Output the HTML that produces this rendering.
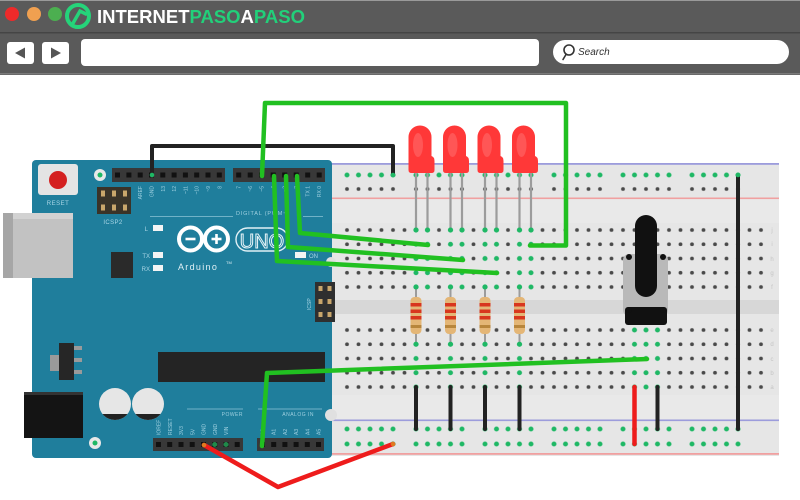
<!DOCTYPE html>
<html><head><meta charset="utf-8">
<style>
html,body{margin:0;padding:0;background:#fff;overflow:hidden;}
svg{display:block;}
</style></head><body>
<svg width="800" height="500" viewBox="0 0 800 500" xmlns="http://www.w3.org/2000/svg" font-family="'Liberation Sans', sans-serif">
<defs>
  <pattern id="K" patternUnits="userSpaceOnUse" x="341.25" y="-7.125" width="11.5" height="14.25"><circle cx="5.75" cy="7.125" r="1.9" fill="#4a4a4a"/></pattern>
  <pattern id="G" patternUnits="userSpaceOnUse" x="341.25" y="-7.125" width="11.5" height="14.25"><circle cx="5.75" cy="7.125" r="2.5" fill="#1fb865"/></pattern>
  <pattern id="RG" patternUnits="userSpaceOnUse" x="341.25" y="-7.125" width="69" height="14.25">
    <circle cx="5.75" cy="7.125" r="2.5" fill="#1fb865"/><circle cx="17.25" cy="7.125" r="2.5" fill="#1fb865"/><circle cx="28.75" cy="7.125" r="2.5" fill="#1fb865"/><circle cx="40.25" cy="7.125" r="2.5" fill="#1fb865"/><circle cx="51.75" cy="7.125" r="2.5" fill="#1fb865"/>
  </pattern>
  <pattern id="RK" patternUnits="userSpaceOnUse" x="341.25" y="-7.125" width="69" height="14.25">
    <circle cx="5.75" cy="7.125" r="1.9" fill="#4a4a4a"/><circle cx="17.25" cy="7.125" r="1.9" fill="#4a4a4a"/><circle cx="28.75" cy="7.125" r="1.9" fill="#4a4a4a"/><circle cx="40.25" cy="7.125" r="1.9" fill="#4a4a4a"/><circle cx="51.75" cy="7.125" r="1.9" fill="#4a4a4a"/>
  </pattern>
  <path id="led" d="M-13,170 L-13,137 A11.5,11.5 0 0 1 10,137 L10,156 Q13,157 13,161 L13,170 Q13,173 10,173 L-10,173 Q-13,173 -13,170 Z"/>
  <clipPath id="capclip"><rect x="0" y="414" width="200" height="30"/></clipPath>
</defs>

<!-- ===== Browser chrome ===== -->
<rect x="0" y="0" width="800" height="75" fill="#5a5a5a"/>
<rect x="0" y="0" width="800" height="1" fill="#9a9a9a"/>
<rect x="0" y="32" width="800" height="1.5" fill="#454545"/>
<rect x="0" y="73" width="800" height="1.5" fill="#7a7a7a"/>
<circle cx="12" cy="14" r="7" fill="#ee2a2a"/>
<circle cx="34" cy="14" r="7" fill="#f0a050"/>
<circle cx="55" cy="14" r="7" fill="#4caf50"/>
<circle cx="78" cy="16" r="11" fill="none" stroke="#25d47a" stroke-width="4"/>
<path d="M72,25 L80,11 L86,14" fill="none" stroke="#25d47a" stroke-width="3.5" stroke-linecap="round"/>
<text x="97" y="23" font-size="18" font-weight="bold" fill="#ffffff" textLength="208" lengthAdjust="spacingAndGlyphs">INTERNET<tspan fill="#22d07a">PASO</tspan>A<tspan fill="#22d07a">PASO</tspan></text>

<rect x="7" y="42" width="27" height="22" rx="3" fill="#ffffff"/>
<path d="M15,53 L25,47.5 L25,58.5 Z" fill="#555"/>
<rect x="42" y="42" width="27" height="22" rx="3" fill="#ffffff"/>
<path d="M61,53 L51,47.5 L51,58.5 Z" fill="#555"/>
<rect x="81" y="39" width="458" height="27" rx="4" fill="#ffffff"/>
<rect x="553" y="40" width="236" height="24" rx="12" fill="#ffffff"/>
<circle cx="569" cy="50" r="5" fill="none" stroke="#333" stroke-width="1.6"/>
<line x1="566" y1="54.5" x2="563" y2="59.5" stroke="#333" stroke-width="1.6" stroke-linecap="round"/>
<text x="578" y="55" font-size="10" font-style="italic" fill="#333">Search</text>

<!-- ===== Breadboard ===== -->
<rect x="326" y="163" width="453" height="293" fill="#e6e6e6"/>
<rect x="326" y="199" width="453" height="24" fill="#e9e9e9"/>
<rect x="326" y="395" width="453" height="24" fill="#e9e9e9"/>
<rect x="326" y="300" width="453" height="14" fill="#d7d7d7"/>
<rect x="326" y="163" width="453" height="1.8" fill="#9c9cdc"/>
<rect x="326" y="197.5" width="453" height="1.6" fill="#f0a0a0"/>
<rect x="326" y="419.5" width="453" height="1.6" fill="#9c9cdc"/>
<rect x="326" y="453" width="453" height="1.8" fill="#f0a0a0"/>

<!-- rails -->
<g transform="translate(0,175)"><rect x="341.25" y="-7.125" width="402.5" height="14.25" fill="url(#RG)"/></g>
<g transform="translate(0,189)"><rect x="341.25" y="-7.125" width="402.5" height="14.25" fill="url(#RK)"/></g>
<g transform="translate(0,429)"><rect x="341.25" y="-7.125" width="402.5" height="14.25" fill="url(#RG)"/></g>
<g transform="translate(0,444)"><rect x="341.25" y="-7.125" width="402.5" height="14.25" fill="url(#RG)"/></g>

<!-- main top half -->
<g transform="translate(0,230)">
  <rect x="341.25" y="-7.125" width="425.5" height="71.25" fill="url(#K)"/>
  <rect x="410.25" y="-7.125" width="23" height="71.25" fill="url(#G)"/>
  <rect x="444.75" y="-7.125" width="23" height="71.25" fill="url(#G)"/>
  <rect x="479.25" y="-7.125" width="23" height="71.25" fill="url(#G)"/>
  <rect x="513.75" y="-7.125" width="23" height="71.25" fill="url(#G)"/>
</g>
<!-- main bottom half -->
<g transform="translate(0,330)">
  <rect x="341.25" y="-7.125" width="425.5" height="71.25" fill="url(#K)"/>
  <rect x="410.25" y="-7.125" width="11.5" height="71.25" fill="url(#G)"/>
  <rect x="444.75" y="-7.125" width="11.5" height="71.25" fill="url(#G)"/>
  <rect x="479.25" y="-7.125" width="11.5" height="71.25" fill="url(#G)"/>
  <rect x="513.75" y="-7.125" width="11.5" height="71.25" fill="url(#G)"/>
  <rect x="628.75" y="-7.125" width="34.5" height="71.25" fill="url(#G)"/>
</g>
<g font-size="6" fill="#c4c4c4" text-anchor="middle">
  <text x="772" y="232">j</text><text x="772" y="246">i</text><text x="772" y="261">h</text><text x="772" y="275">g</text><text x="772" y="289">f</text>
  <text x="772" y="332">e</text><text x="772" y="346">d</text><text x="772" y="361">c</text><text x="772" y="375">b</text><text x="772" y="389">a</text>
</g>

<!-- ===== Arduino ===== -->
<rect x="3" y="213" width="70" height="65" fill="#c2c2c2"/>
<rect x="3" y="213" width="10" height="65" fill="#a6a6a6"/>
<rect x="13" y="213" width="60" height="6" fill="#d2d2d2"/>
<rect x="32" y="160" width="300" height="298" rx="4" fill="#1f7e9c"/>
<rect x="32" y="213" width="41" height="65" fill="#c2c2c2"/>
<rect x="13" y="213" width="60" height="6" fill="#d2d2d2"/>

<rect x="38" y="164" width="40" height="31" rx="3" fill="#e4e4e4"/>
<circle cx="58" cy="180" r="9" fill="#d42020"/>
<text x="58" y="205" font-size="6" fill="#a9d6e6" text-anchor="middle" letter-spacing="0.5">RESET</text>

<circle cx="100" cy="175" r="6" fill="#e8e8e8"/><circle cx="100" cy="175" r="2.5" fill="#1fb865"/>
<circle cx="95" cy="443" r="6" fill="#e8e8e8"/><circle cx="95" cy="443" r="2.5" fill="#1fb865"/>
<circle cx="331" cy="415" r="6" fill="#e0e0e0"/>
<circle cx="331" cy="262" r="5" fill="#e0e0e0"/>

<!-- top headers -->
<rect x="112" y="168" width="113" height="14" fill="#383838"/>
<g fill="#111">
  <rect x="115" y="172.5" width="5" height="5"/><rect x="126.4" y="172.5" width="5" height="5"/><rect x="137.7" y="172.5" width="5" height="5"/><rect x="149" y="172.5" width="5" height="5"/><rect x="160.3" y="172.5" width="5" height="5"/><rect x="171.6" y="172.5" width="5" height="5"/><rect x="182.9" y="172.5" width="5" height="5"/><rect x="194.2" y="172.5" width="5" height="5"/><rect x="205.5" y="172.5" width="5" height="5"/><rect x="216.8" y="172.5" width="5" height="5"/>
</g>
<rect x="233" y="168" width="92" height="14" fill="#383838"/>
<g fill="#111">
  <rect x="236.2" y="172.5" width="5" height="5"/><rect x="247.7" y="172.5" width="5" height="5"/><rect x="259.2" y="172.5" width="5" height="5"/><rect x="270.7" y="172.5" width="5" height="5"/><rect x="282.2" y="172.5" width="5" height="5"/><rect x="293.7" y="172.5" width="5" height="5"/><rect x="305.2" y="172.5" width="5" height="5"/><rect x="316.7" y="172.5" width="5" height="5"/>
</g>
<g font-size="5" fill="#9fd0e0">
  <text transform="translate(142,186) rotate(-90)" text-anchor="end">AREF</text>
  <text transform="translate(153.5,186) rotate(-90)" text-anchor="end">GND</text>
  <text transform="translate(164.8,186) rotate(-90)" text-anchor="end">13</text>
  <text transform="translate(176,186) rotate(-90)" text-anchor="end">12</text>
  <text transform="translate(187.4,186) rotate(-90)" text-anchor="end">~11</text>
  <text transform="translate(198.7,186) rotate(-90)" text-anchor="end">~10</text>
  <text transform="translate(210,186) rotate(-90)" text-anchor="end">~9</text>
  <text transform="translate(221.3,186) rotate(-90)" text-anchor="end">8</text>
  <text transform="translate(240.7,186) rotate(-90)" text-anchor="end">7</text>
  <text transform="translate(252.2,186) rotate(-90)" text-anchor="end">~6</text>
  <text transform="translate(263.7,186) rotate(-90)" text-anchor="end">~5</text>
  <text transform="translate(275.2,186) rotate(-90)" text-anchor="end">4</text>
  <text transform="translate(286.7,186) rotate(-90)" text-anchor="end">~3</text>
  <text transform="translate(298.2,186) rotate(-90)" text-anchor="end">2</text>
  <text transform="translate(309.7,186) rotate(-90)" text-anchor="end">TX 1</text>
  <text transform="translate(321.2,186) rotate(-90)" text-anchor="end">RX 0</text>
</g>
<line x1="150" y1="216.5" x2="233" y2="216.5" stroke="#8cc4d6" stroke-width="0.8"/>
<text x="236" y="215" font-size="5.5" fill="#9fd0e0" letter-spacing="0.8">DIGITAL (PWM~)</text>
<line x1="303" y1="216.5" x2="323" y2="216.5" stroke="#8cc4d6" stroke-width="0.8"/>

<!-- ICSP2 -->
<rect x="97" y="187" width="34" height="27" fill="#3a3328"/>
<g fill="#c9a66b">
  <rect x="101" y="190.5" width="4" height="6"/><rect x="112" y="190.5" width="4" height="6"/><rect x="123" y="190.5" width="4" height="6"/>
  <rect x="101" y="204.5" width="4" height="6"/><rect x="112" y="204.5" width="4" height="6"/><rect x="123" y="204.5" width="4" height="6"/>
</g>
<text x="113" y="224" font-size="6" fill="#a9d6e6" text-anchor="middle" letter-spacing="0.4">ICSP2</text>

<!-- LEDs L TX RX ON -->
<rect x="153" y="225" width="10" height="6" fill="#f4f4f4"/>
<text x="148" y="231" font-size="6" fill="#a9d6e6" text-anchor="end">L</text>
<rect x="153" y="252" width="10" height="6" fill="#f4f4f4"/>
<text x="150" y="258" font-size="6" fill="#a9d6e6" text-anchor="end">TX</text>
<rect x="153" y="265" width="10" height="6" fill="#f4f4f4"/>
<text x="150" y="271" font-size="6" fill="#a9d6e6" text-anchor="end">RX</text>
<rect x="295" y="252" width="11" height="6" fill="#f4f4f4"/>
<text x="309" y="258" font-size="6" fill="#a9d6e6">ON</text>

<rect x="111" y="252" width="22" height="26" fill="#2a2a2a"/>

<!-- Arduino logo -->
<circle cx="190.5" cy="239" r="11.5" fill="none" stroke="#ffffff" stroke-width="4"/>
<circle cx="216.5" cy="239" r="11.5" fill="none" stroke="#ffffff" stroke-width="4"/>
<line x1="185.5" y1="239" x2="195.5" y2="239" stroke="#fff" stroke-width="2.6"/>
<line x1="211.5" y1="239" x2="221.5" y2="239" stroke="#fff" stroke-width="2.6"/>
<line x1="216.5" y1="234" x2="216.5" y2="244" stroke="#fff" stroke-width="2.6"/>
<rect x="236" y="228" width="52" height="23" rx="11.5" fill="none" stroke="#e0f0f5" stroke-width="1.4"/>
<text x="262" y="248" font-size="20" fill="none" stroke="#e6f4f8" stroke-width="1" text-anchor="middle">UNO</text>
<text x="178" y="270" font-size="9" fill="#e0f0f5" letter-spacing="1.3">Arduino</text>
<text x="226" y="264" font-size="4" fill="#e0f0f5">TM</text>

<!-- right ICSP -->
<rect x="315" y="282" width="20" height="40" fill="#2f2f2f"/>
<g fill="#c9a66b">
  <rect x="318.5" y="286" width="4" height="5"/><rect x="327.5" y="286" width="4" height="5"/>
  <rect x="318.5" y="299" width="4" height="5"/><rect x="327.5" y="299" width="4" height="5"/>
  <rect x="318.5" y="312" width="4" height="5"/><rect x="327.5" y="312" width="4" height="5"/>
</g>
<text transform="translate(311,310) rotate(-90)" font-size="5" fill="#a9d6e6">ICSP</text>

<!-- regulator -->
<rect x="50" y="355" width="10" height="16" fill="#9a9a9a"/>
<rect x="59" y="343" width="15" height="37" fill="#262626"/>
<rect x="74" y="346" width="8" height="4" fill="#9a9a9a"/>
<rect x="74" y="358" width="8" height="4" fill="#9a9a9a"/>
<rect x="74" y="370" width="8" height="4" fill="#9a9a9a"/>

<!-- big chip -->
<rect x="158" y="352" width="167" height="30" fill="#242424"/>

<!-- DC jack -->
<rect x="24" y="392" width="59" height="46" fill="#141414"/>
<rect x="24" y="392" width="59" height="3" fill="#333"/>

<!-- capacitors -->
<circle cx="115" cy="404" r="16" fill="#e6e6e6"/>
<circle cx="148" cy="404" r="16" fill="#e6e6e6"/>
<g clip-path="url(#capclip)">
  <circle cx="115" cy="404" r="16" fill="#222"/>
  <circle cx="148" cy="404" r="16" fill="#222"/>
</g>

<!-- bottom headers -->
<line x1="187" y1="409" x2="243" y2="409" stroke="#8cc4d6" stroke-width="0.8"/>
<text x="243" y="416" font-size="5" fill="#9fd0e0" text-anchor="end" letter-spacing="0.5">POWER</text>
<line x1="258" y1="409" x2="322" y2="409" stroke="#8cc4d6" stroke-width="0.8"/>
<text x="314" y="416" font-size="5" fill="#9fd0e0" text-anchor="end" letter-spacing="0.5">ANALOG IN</text>
<g font-size="5" fill="#9fd0e0">
  <text transform="translate(160.5,435) rotate(-90)">IOREF</text>
  <text transform="translate(171.8,435) rotate(-90)">RESET</text>
  <text transform="translate(183,435) rotate(-90)">3V3</text>
  <text transform="translate(194.3,435) rotate(-90)">5V</text>
  <text transform="translate(205.5,435) rotate(-90)">GND</text>
  <text transform="translate(216.8,435) rotate(-90)">GND</text>
  <text transform="translate(228,435) rotate(-90)">VIN</text>
  <text transform="translate(264.5,435) rotate(-90)">A0</text>
  <text transform="translate(275.7,435) rotate(-90)">A1</text>
  <text transform="translate(286.9,435) rotate(-90)">A2</text>
  <text transform="translate(298.1,435) rotate(-90)">A3</text>
  <text transform="translate(309.3,435) rotate(-90)">A4</text>
  <text transform="translate(320.5,435) rotate(-90)">A5</text>
</g>
<rect x="153" y="438" width="90" height="13" fill="#383838"/>
<g fill="#111">
  <rect x="156" y="442" width="5" height="5"/><rect x="167.2" y="442" width="5" height="5"/><rect x="178.5" y="442" width="5" height="5"/><rect x="189.7" y="442" width="5" height="5"/><rect x="201" y="442" width="5" height="5"/><rect x="212.2" y="442" width="5" height="5"/><rect x="223.5" y="442" width="5" height="5"/><rect x="234.7" y="442" width="5" height="5"/>
</g>
<circle cx="214.7" cy="444.5" r="2.5" fill="#1f8a4a"/>
<circle cx="226" cy="444.5" r="2.5" fill="#1f8a4a"/>
<rect x="257" y="438" width="67" height="13" fill="#383838"/>
<g fill="#111">
  <rect x="260" y="442" width="5" height="5"/><rect x="271.2" y="442" width="5" height="5"/><rect x="282.4" y="442" width="5" height="5"/><rect x="293.6" y="442" width="5" height="5"/><rect x="304.8" y="442" width="5" height="5"/><rect x="316" y="442" width="5" height="5"/>
</g>

<!-- ===== Components on breadboard ===== -->
<!-- LED legs -->
<g stroke="#9c9c9c" stroke-width="2.2">
  <line x1="416" y1="170" x2="416" y2="230"/><line x1="427.5" y1="170" x2="427.5" y2="230"/>
  <line x1="450.5" y1="170" x2="450.5" y2="230"/><line x1="462" y1="170" x2="462" y2="230"/>
  <line x1="485" y1="170" x2="485" y2="230"/><line x1="496.5" y1="170" x2="496.5" y2="230"/>
  <line x1="519.5" y1="170" x2="519.5" y2="230"/><line x1="531" y1="170" x2="531" y2="230"/>
</g>
<g fill="#1fb865">
  <circle cx="416" cy="230" r="2.5"/><circle cx="427.5" cy="230" r="2.5"/><circle cx="450.5" cy="230" r="2.5"/><circle cx="462" cy="230" r="2.5"/>
  <circle cx="485" cy="230" r="2.5"/><circle cx="496.5" cy="230" r="2.5"/><circle cx="519.5" cy="230" r="2.5"/><circle cx="531" cy="230" r="2.5"/>
</g>
<!-- LED bodies -->
<g fill="#ff3838">
  <use href="#led" x="421.5" y="0"/>
  <use href="#led" x="456" y="0"/>
  <use href="#led" x="490.5" y="0"/>
  <use href="#led" x="525" y="0"/>
</g>
<g fill="#ff7070" opacity="0.55">
  <ellipse cx="418" cy="145" rx="5" ry="12"/>
  <ellipse cx="452.5" cy="145" rx="5" ry="12"/>
  <ellipse cx="487" cy="145" rx="5" ry="12"/>
  <ellipse cx="521.5" cy="145" rx="5" ry="12"/>
</g>

<!-- resistors -->
<g>
  <g stroke="#9c9c9c" stroke-width="2">
    <line x1="416" y1="287" x2="416" y2="344"/><line x1="450.5" y1="287" x2="450.5" y2="344"/>
    <line x1="485" y1="287" x2="485" y2="344"/><line x1="519.5" y1="287" x2="519.5" y2="344"/>
  </g>
  <g fill="#e4b676">
    <rect x="410.5" y="297" width="11" height="37" rx="4"/><rect x="445" y="297" width="11" height="37" rx="4"/>
    <rect x="479.5" y="297" width="11" height="37" rx="4"/><rect x="514" y="297" width="11" height="37" rx="4"/>
  </g>
  <g fill="#d8361e">
    <rect x="410.5" y="303" width="11" height="3.5"/><rect x="445" y="303" width="11" height="3.5"/><rect x="479.5" y="303" width="11" height="3.5"/><rect x="514" y="303" width="11" height="3.5"/>
    <rect x="410.5" y="309.5" width="11" height="3.5"/><rect x="445" y="309.5" width="11" height="3.5"/><rect x="479.5" y="309.5" width="11" height="3.5"/><rect x="514" y="309.5" width="11" height="3.5"/>
    <rect x="410.5" y="316" width="11" height="3.5"/><rect x="445" y="316" width="11" height="3.5"/><rect x="479.5" y="316" width="11" height="3.5"/><rect x="514" y="316" width="11" height="3.5"/>
  </g>
  <g fill="#b8863c">
    <rect x="410.5" y="325" width="11" height="3"/><rect x="445" y="325" width="11" height="3"/><rect x="479.5" y="325" width="11" height="3"/><rect x="514" y="325" width="11" height="3"/>
  </g>
  <g fill="#1fb865">
    <circle cx="416" cy="287" r="2.5"/><circle cx="450.5" cy="287" r="2.5"/><circle cx="485" cy="287" r="2.5"/><circle cx="519.5" cy="287" r="2.5"/>
    <circle cx="416" cy="344.25" r="2.5"/><circle cx="450.5" cy="344.25" r="2.5"/><circle cx="485" cy="344.25" r="2.5"/><circle cx="519.5" cy="344.25" r="2.5"/>
  </g>
</g>

<!-- potentiometer -->
<rect x="623" y="254" width="45" height="62" rx="6" fill="#b9b9b9"/>
<rect x="625" y="307" width="42" height="18" rx="3" fill="#111"/>
<rect x="635" y="215" width="22" height="82" rx="11" fill="#111"/>
<g fill="#111">
  <circle cx="629" cy="257" r="3"/><circle cx="663" cy="257" r="3"/>
  <circle cx="629" cy="310" r="3"/><circle cx="663" cy="310" r="3"/>
</g>

<!-- ===== Wires ===== -->
<g fill="none" stroke-linecap="round" stroke-linejoin="round">
  <g stroke="#222" stroke-width="4">
    <polyline points="152,175 152,146 393,146 393,175"/>
    <line x1="416" y1="387" x2="416" y2="429"/>
    <line x1="450.5" y1="387" x2="450.5" y2="429"/>
    <line x1="485" y1="387" x2="485" y2="429"/>
    <line x1="519.5" y1="387" x2="519.5" y2="429"/>
    <line x1="657.5" y1="387" x2="657.5" y2="429"/>
    <line x1="738" y1="175" x2="738" y2="429"/>
  </g>
  <g stroke="#ee1c1c" stroke-width="4.5">
    <polyline points="204,445 278,487 393,444"/>
    <line x1="634.5" y1="387" x2="634.5" y2="444"/>
  </g>
  <g stroke="#21c021" stroke-width="4.5">
    <polyline points="262,176 265,103 566,103 566,245.5 530,245.5"/>
    <polyline points="297,176 300,233 428,245"/>
    <polyline points="286,176 288,247 463,260"/>
    <polyline points="274,176 277,261 497,273"/>
    <polyline points="262,446 267,373 647,359"/>
  </g>
</g>
<g fill="#1fb865">
  <circle cx="152" cy="175" r="2.3"/>
  <circle cx="393" cy="175" r="2.3"/>
  <circle cx="738" cy="175" r="2.3"/>
</g>
<circle cx="204" cy="445" r="2.3" fill="#e07a20"/>
<circle cx="393" cy="444" r="2.3" fill="#e07a20"/>
</svg>
</body></html>
